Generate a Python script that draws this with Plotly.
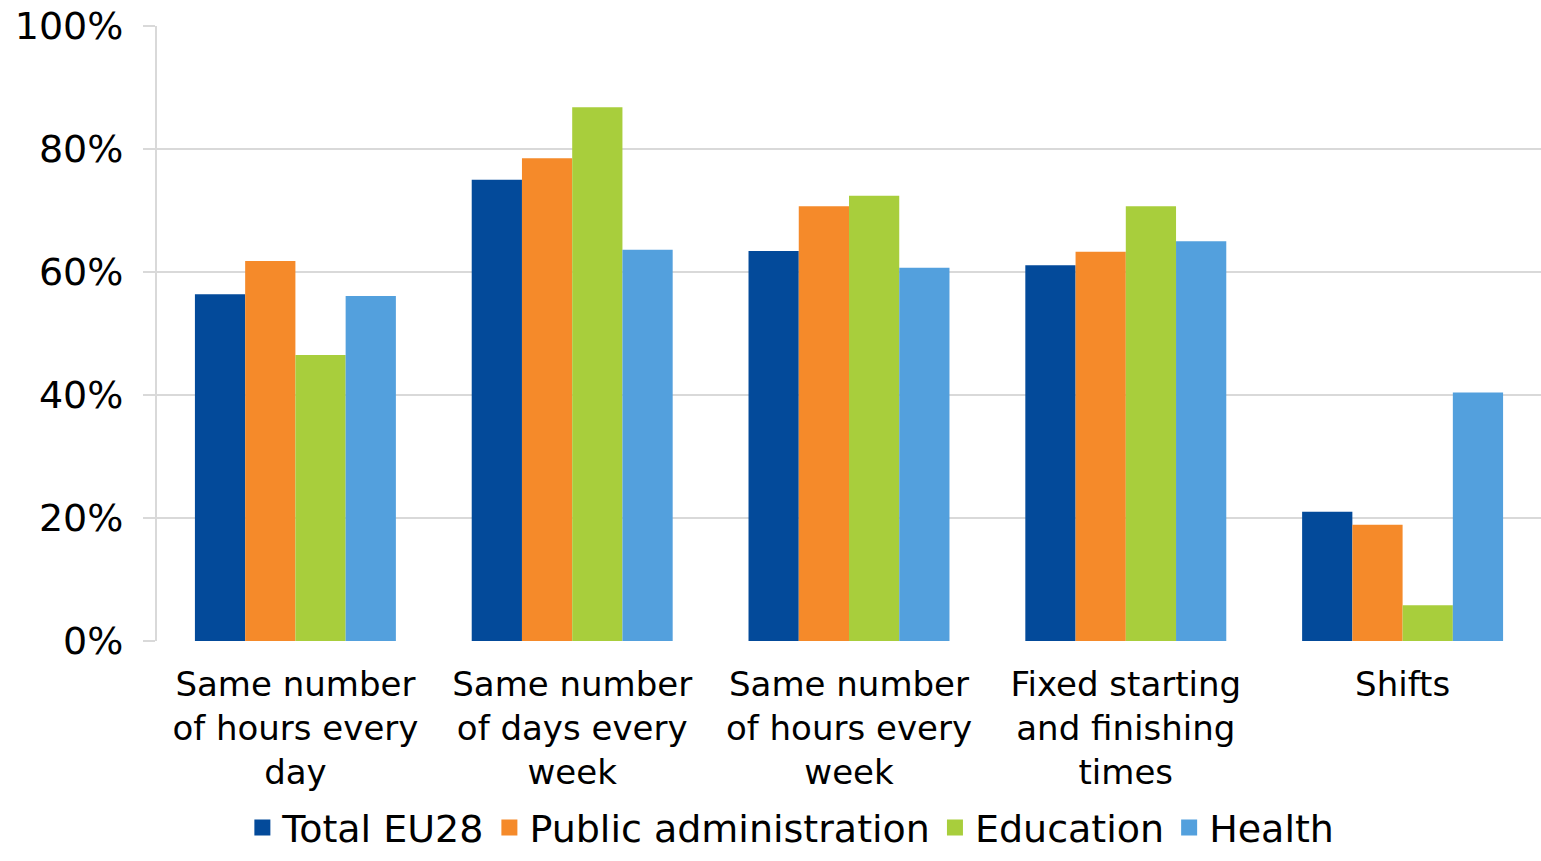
import plotly.graph_objects as go

# Working-time arrangements by sector, share of employees (%)
categories = [
    "Same number<br>of hours every<br>day",
    "Same number<br>of days every<br>week",
    "Same number<br>of hours every<br>week",
    "Fixed starting<br>and finishing<br>times",
    "Shifts",
]
series_names = ["Total EU28", "Public administration", "Education", "Health"]
total_eu28 = [56.4, 75.0, 63.4, 61.1, 21.0]
public_admin = [61.8, 78.5, 70.7, 63.3, 18.9]
education = [46.5, 86.8, 72.4, 70.7, 5.8]
health = [56.1, 63.6, 60.7, 65.0, 40.4]
y_ticks = [0, 20, 40, 60, 80, 100]
y_tick_labels = ["0%", "20%", "40%", "60%", "80%", "100%"]

colors = ["#034A9A", "#F58A2A", "#A8CE3C", "#53A0DD"]
series_values = [total_eu28, public_admin, education, health]

FONT = "Verdana, DejaVu Sans, sans-serif"

fig = go.Figure()
for name, vals, col in zip(series_names, series_values, colors):
    fig.add_trace(go.Bar(
        x=categories, y=vals, name=name,
        marker=dict(color=col, line=dict(width=0)),
        showlegend=False,
    ))

# Legend entries with larger square swatches
for name, col in zip(series_names, colors):
    fig.add_trace(go.Scatter(
        x=[None], y=[None], mode="markers", name=name,
        marker=dict(symbol="square", size=20, color=col),
        showlegend=True,
    ))

fig.update_layout(
    width=1541, height=861,
    margin=dict(l=157, r=0, t=26, b=220),
    paper_bgcolor="white", plot_bgcolor="white",
    barmode="group", bargap=0.274, bargroupgap=0,
    font=dict(family=FONT, color="#000000", size=34),
    legend=dict(
        orientation="h", x=0.458, xanchor="center", y=-0.355, yanchor="bottom",
        font=dict(size=38, family=FONT), itemwidth=30, tracegroupgap=0,
        bgcolor="rgba(0,0,0,0)",
    ),
)
fig.update_xaxes(
    type="category", showgrid=False, showline=False, ticks="",
    tickfont=dict(size=34, family=FONT), ticklabelstandoff=20,
)
fig.update_yaxes(
    range=[0, 100], tickvals=y_ticks, ticktext=y_tick_labels,
    showgrid=True, gridcolor="#D9D9D9", gridwidth=2,
    showline=True, linecolor="#D9D9D9", linewidth=2,
    ticks="outside", ticklen=12, tickcolor="#D9D9D9", tickwidth=2,
    zeroline=False, tickfont=dict(size=38, family=FONT),
    ticklabelstandoff=12,
)

fig.write_html("out.html")
